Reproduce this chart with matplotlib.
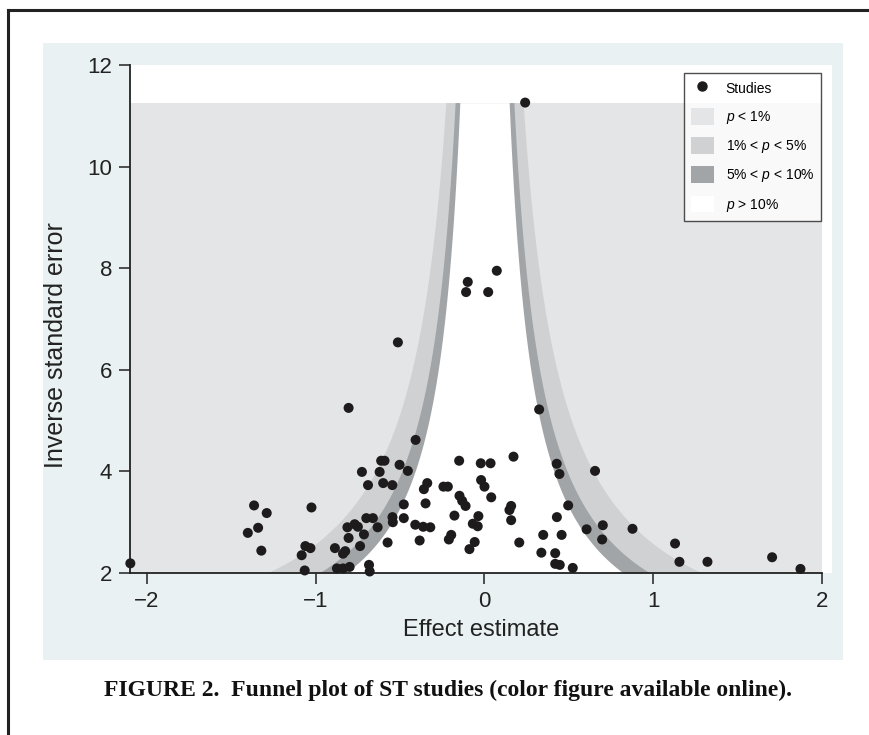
import numpy as np
import matplotlib
matplotlib.use("Agg")
import matplotlib.pyplot as plt
from matplotlib.lines import Line2D
from matplotlib.patches import Patch, Rectangle

plt.rcParams['font.family'] = ['Liberation Sans', 'DejaVu Sans']
plt.rcParams['mathtext.fontset'] = 'custom'
plt.rcParams['mathtext.it'] = 'Liberation Sans:italic'
plt.rcParams['mathtext.rm'] = 'Liberation Sans'

# ---- data: effect estimate and inverse standard error of each study ----
effect = [
    -2.098, -1.365, -1.290, -1.341, -1.402, -1.322, -1.025, -1.061, -1.031, -1.083,
    -1.065, -0.805, -0.886, -0.838, -0.825, -0.874, -0.838, -0.799, -0.812, -0.805,
    -0.769, -0.750, -0.714, -0.737, -0.684, -0.680, -0.408, -0.612, -0.592, -0.621,
    -0.726, -0.503, -0.454, -0.690, -0.600, -0.546, -0.478, -0.349, -0.339, -0.359,
    -0.243, -0.217, -0.150, -0.022, 0.036, -0.020, 0.000, 0.040, 0.172, -0.148,
    -0.132, -0.112, 0.158, 0.148, 0.158, -0.178, -0.036, -0.069, -0.040, -0.410,
    -0.363, -0.321, -0.545, -0.543, -0.700, -0.661, -0.478, -0.633, -0.574, -0.384,
    -0.197, -0.211, -0.058, -0.089, 0.206, 0.324, 0.428, 0.444, 0.496, 0.429,
    0.348, 0.457, 0.337, 0.419, 0.419, 0.446, 0.523, 0.655, 0.701, 0.605,
    0.697, 0.877, 1.129, 1.155, 1.321, 1.704, 1.872, 0.241, 0.073, -0.099,
    -0.109, 0.022, -0.513,
]
inv_se = [
    2.19, 3.33, 3.18, 2.89, 2.79, 2.44, 3.29, 2.53, 2.49, 2.35,
    2.05, 5.25, 2.49, 2.38, 2.43, 2.09, 2.09, 2.12, 2.90, 2.69,
    2.96, 2.91, 2.76, 2.53, 2.16, 2.03, 4.62, 4.21, 4.21, 3.99,
    3.99, 4.13, 4.01, 3.73, 3.77, 3.73, 3.35, 3.37, 3.77, 3.65,
    3.70, 3.70, 4.21, 4.16, 4.16, 3.83, 3.70, 3.49, 4.29, 3.52,
    3.42, 3.32, 3.32, 3.24, 3.04, 3.13, 3.12, 2.97, 2.92, 2.95,
    2.91, 2.90, 3.10, 3.00, 3.08, 3.08, 3.08, 2.90, 2.60, 2.64,
    2.75, 2.66, 2.61, 2.47, 2.60, 5.22, 4.15, 3.95, 3.33, 3.10,
    2.75, 2.75, 2.40, 2.39, 2.18, 2.16, 2.10, 4.01, 2.94, 2.86,
    2.66, 2.87, 2.58, 2.22, 2.22, 2.31, 2.08, 11.26, 7.95, 7.73,
    7.53, 7.53, 6.54,
]

x_ticks = [-2, -1, 0, 1, 2]
x_tick_labels = ["\u22122", "\u22121", "0", "1", "2"]
y_ticks = [2, 4, 6, 8, 10, 12]
z_levels = [2.576, 1.960, 1.645]   # 1%, 5%, 10% two-sided
legend_labels = ["Studies", "$\\it{p}$ < 1%", "1% < $\\it{p}$ < 5%",
                 "5% < $\\it{p}$ < 10%", "$\\it{p}$ > 10%"]

c_light, c_mid, c_dark = "#e4e5e7", "#d0d1d3", "#a2a5a8"
panel_col = "#e9f1f3"

W, H = 869, 735
fig = plt.figure(figsize=(W / 100, H / 100), dpi=100)
fig.patch.set_facecolor("white")

def fx(px):
    return px / W

def fy(py):
    return 1 - py / H

# outer frame (top and left) and light panel
fig.add_artist(Line2D([fx(8), fx(869)], [fy(10), fy(10)], color="#222222", lw=2.2,
                      transform=fig.transFigure))
fig.add_artist(Line2D([fx(8), fx(8)], [fy(10), fy(735)], color="#222222", lw=2.2,
                      transform=fig.transFigure))
fig.add_artist(Rectangle((fx(43), fy(660)), fx(843) - fx(43), fy(43) - fy(660),
                         transform=fig.transFigure, facecolor=panel_col,
                         edgecolor="none", zorder=0))

xmin, xmax_shade, xmax_ax = -2.1, 2.0, 2.06
ax = fig.add_axes([fx(130), fy(573), fx(832.2) - fx(130), fy(65) - fy(573)])
ax.set_facecolor("white")
ax.set_xlim(xmin, xmax_ax)
ax.set_ylim(2, 12)

ymax = max(inv_se)
yy = np.linspace(2, ymax, 600)
ax.fill_between([xmin, xmax_shade], 2, ymax, color=c_light, lw=0, zorder=1)
for z, col in zip(z_levels, [c_mid, c_dark, "white"]):
    ax.fill_betweenx(yy, -z / yy, z / yy, color=col, lw=0, zorder=2)

ax.scatter(effect, inv_se, s=52, color="#1e1b1c", edgecolors="none", zorder=5,
           clip_on=False)

for s in ["top", "right"]:
    ax.spines[s].set_visible(False)
for s in ["left", "bottom"]:
    ax.spines[s].set_color("#222222")
    ax.spines[s].set_linewidth(1.3)
ax.spines["bottom"].set_bounds(xmin, 2.0)

ax.set_xticks(x_ticks)
ax.set_xticklabels(x_tick_labels)
ax.set_yticks(y_ticks)
ax.tick_params(axis="both", length=8, width=1.1, color="#222222",
               labelsize=16, labelcolor="#222222", pad=5)
ax.set_xlabel("Effect estimate", fontsize=17, color="#222222", labelpad=5)
ax.set_ylabel("Inverse standard error", fontsize=18, color="#222222")
ax.yaxis.set_label_coords((68 - 130) / 702.2, (573 - 345) / 508)

handles = [
    Line2D([], [], marker="o", ls="none", color="#1e1b1c", markersize=6.5),
    Patch(facecolor=c_light, edgecolor="none"),
    Patch(facecolor=c_mid, edgecolor="none"),
    Patch(facecolor=c_dark, edgecolor="none"),
    Patch(facecolor="white", edgecolor="none"),
]
leg = fig.legend(handles, legend_labels, loc="upper left",
                 bbox_to_anchor=(fx(684), fy(73)), bbox_transform=fig.transFigure,
                 frameon=True, fancybox=False, edgecolor="#222222",
                 fontsize=10, labelspacing=0.8, handlelength=1.65,
                 handleheight=1.5, handletextpad=0.85, borderpad=0.5,
                 borderaxespad=0)
leg.get_frame().set_linewidth(1.0)
leg.set_zorder(10)

fig.text(fx(448), fy(690), "FIGURE 2.  Funnel plot of ST studies (color figure available online).",
         family=["Liberation Serif"], weight="bold", fontsize=17, ha="center",
         va="center", color="#111111")

fig.savefig("out.png", dpi=100)
